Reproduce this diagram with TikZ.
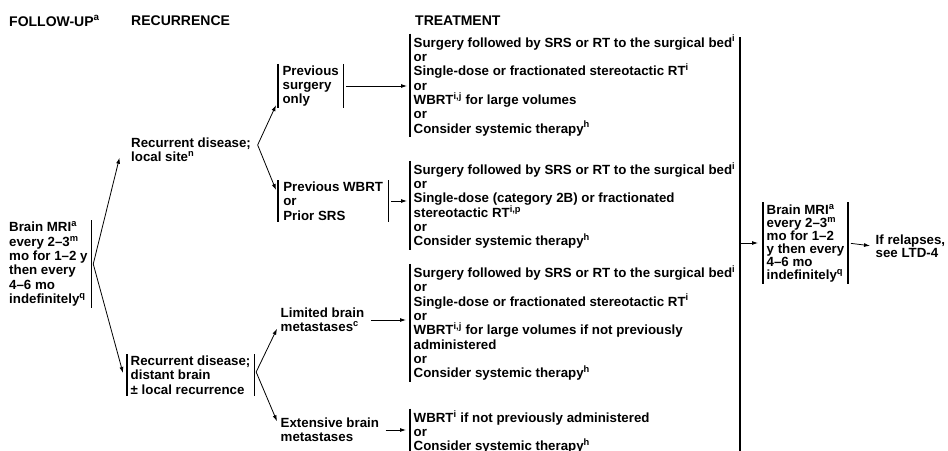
\documentclass[tikz,border=0pt]{standalone}
\usepackage{fontspec}
\setmainfont{Liberation Sans}
\usetikzlibrary{arrows.meta}
\setlength{\lineskiplimit}{-4pt}

\begin{document}
\begin{tikzpicture}
[x=1pt,y=-1pt,
 every node/.style={font=\bfseries\fontsize{13.3}{14.3}\selectfont,align=left,
   inner xsep=3.5pt,inner ysep=1.5pt,anchor=west},
 head/.style={font=\bfseries\fontsize{14}{16}\selectfont},
 tight/.style={font=\bfseries\fontsize{13.3}{13}\selectfont},
 bar/.style={line width=1.3pt},
 lbar/.style={append after command={(\tikzlastnode.north west) edge[bar] (\tikzlastnode.south west)}},
 rbar/.style={append after command={(\tikzlastnode.north east) edge[bar] (\tikzlastnode.south east)}},
 arr/.style={line width=0.8pt,-{Latex[length=6pt,width=4pt]}}]
\clip (0,0) rectangle (948,450);
%% column heads
\node[head] (hfollow) at (5.5,21) {FOLLOW-UP\textsuperscript{a}};
\node[head] (hrecur) at (127.5,21) {RECURRENCE};
\node[head] (htreat) at (411.5,21) {TREATMENT};
%% follow-up and recurrence
\node[rbar] (mri) at (5.5,264) {Brain MRI\textsuperscript{a}\\every 2--3\textsuperscript{m}\\mo for 1--2 y\\then every\\4--6 mo\\indefinitely\textsuperscript{q}};
\node (local) at (127.5,150) {Recurrent disease;\\local site\textsuperscript{n}};
\node[lbar,rbar] (distant) at (127,375) {Recurrent disease;\\distant brain\\± local recurrence};
\node[lbar,rbar,minimum width=65pt] (surg) at (278,86) {Previous\\surgery\\only};
\node[lbar,rbar,minimum width=110pt] (wbrt) at (278,201) {Previous WBRT\\or\\Prior SRS};
\node (limited) at (277,320) {Limited brain\\metastases\textsuperscript{c}};
\node (extensive) at (277,430) {Extensive brain\\metastases};
%% treatment
\node[lbar] (treat1) at (410,85.5) {Surgery followed by SRS or RT to the surgical bed\textsuperscript{i}\\or\\Single-dose or fractionated stereotactic RT\textsuperscript{i}\\or\\WBRT\textsuperscript{i,j} for large volumes\\or\\Consider systemic therapy\textsuperscript{h}};
\node[lbar] (treat2) at (410,205.5) {Surgery followed by SRS or RT to the surgical bed\textsuperscript{i}\\or\\Single-dose (category 2B) or fractionated\\stereotactic RT\textsuperscript{i,p}\\or\\Consider systemic therapy\textsuperscript{h}};
\node[lbar] (treat3) at (410,323) {Surgery followed by SRS or RT to the surgical bed\textsuperscript{i}\\or\\Single-dose or fractionated stereotactic RT\textsuperscript{i}\\or\\WBRT\textsuperscript{i,j} for large volumes if not previously\\administered\\or\\Consider systemic therapy\textsuperscript{h}};
\node[lbar] (treat4) at (410,432) {WBRT\textsuperscript{i} if not previously administered\\or\\Consider systemic therapy\textsuperscript{h}};
%% after treatment
\node[lbar,rbar,tight] (mri2) at (763,243) {Brain MRI\textsuperscript{a}\\every 2--3\textsuperscript{m}\\mo for 1--2\\y then every\\4--6 mo\\indefinitely\textsuperscript{q}};
\node[tight] (relapse) at (872,246) {If relapses,\\see LTD-4};
\coordinate (colT) at (740,37);
\coordinate (colB) at (740,455);
\draw[bar] (colT) -- (colB);
%% connectors
\coordinate (f1) at ([xshift=2pt]mri.east);
\draw[arr] (f1) -- ([xshift=-8pt,yshift=6pt]local.south west);
\draw[arr] (f1) -- ([xshift=-4pt,yshift=2pt]distant.west);
\coordinate (f2) at ([xshift=3pt,yshift=5pt]local.east);
\draw[arr] (f2) -- ([xshift=-2pt,yshift=3pt]surg.south west);
\draw[arr] (f2) -- ([xshift=-2pt,yshift=11pt]wbrt.west);
\coordinate (f3) at ([xshift=2pt,yshift=3pt]distant.east);
\draw[arr] (f3) -- ([yshift=5pt]limited.south west);
\draw[arr] (f3) -- ([yshift=-5pt]extensive.north west);
\draw[arr,shorten <=3pt,shorten >=3pt] (surg.east) -- (surg.east -| treat1.west);
\draw[arr,shorten <=3pt,shorten >=3pt] (wbrt.east) -- (wbrt.east -| treat2.west);
\draw[arr,shorten <=3pt,shorten >=4pt] (limited.east) -- (limited.east -| treat3.west);
\draw[arr,shorten <=3pt,shorten >=4pt] (extensive.east) -- (extensive.east -| treat4.west);
\draw[arr,shorten <=1pt,shorten >=5pt] (mri2.west -| colT) -- (mri2.west);
\draw[arr,shorten <=3pt,shorten >=2pt] (mri2.east) -- (relapse.west);
\end{tikzpicture}
\end{document}
